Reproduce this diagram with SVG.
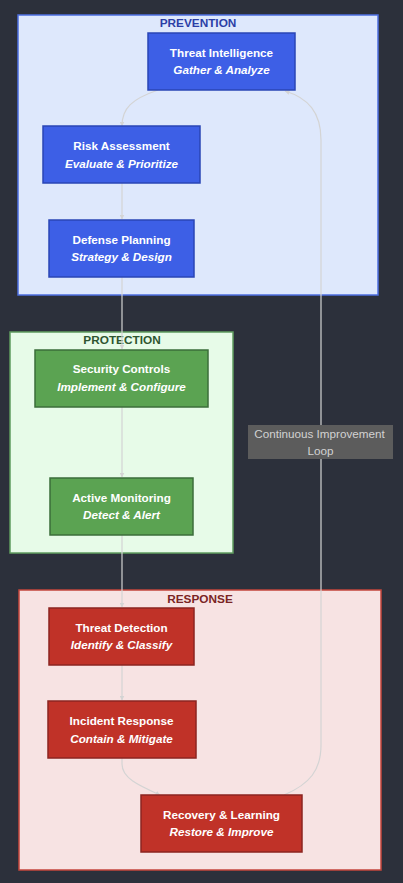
<svg xmlns="http://www.w3.org/2000/svg" width="403" height="883" viewBox="0 0 403 883">
<defs>
<style>
.t{font-family:"Liberation Sans",Arial,sans-serif;font-size:11.7px;font-weight:bold;fill:#ffffff;text-anchor:middle}
.s{font-family:"Liberation Sans",Arial,sans-serif;font-size:11.7px;font-weight:bold;font-style:italic;fill:#ffffff;text-anchor:middle}
.ct{font-family:"Liberation Sans",Arial,sans-serif;font-size:11.8px;font-weight:bold;text-anchor:middle}
.lb{font-family:"Liberation Sans",Arial,sans-serif;font-size:11.7px;fill:#d2d2d2;text-anchor:middle}
.e{fill:none;stroke:#d4d4d4;stroke-width:1.2;marker-end:url(#ah)}
.bn{fill:#3d5fe6;stroke:#2a45b5;stroke-width:1.5}
.gn{fill:#5ba352;stroke:#3b6e3a;stroke-width:1.5}
.rn{fill:#c03228;stroke:#8c2520;stroke-width:1.5}
</style>
<marker id="ah" viewBox="0 0 10 10" refX="9" refY="5" markerWidth="5" markerHeight="5" orient="auto-start-reverse" markerUnits="userSpaceOnUse">
<path d="M0,0 L10,5 L0,10 z" fill="#d4d4d4"/>
</marker>
</defs>
<rect x="0" y="0" width="403" height="883" fill="#2c303b"/>
<g id="cluster-prevention">
<rect x="18" y="15" width="360" height="280" fill="#dee8fc" stroke="#4c6ee0" stroke-width="1.5"/>
<text class="ct" x="198" y="27" fill="#2b3ea6">PREVENTION</text>
</g>
<g id="cluster-protection">
<rect x="10" y="332" width="223" height="221" fill="#e7fbe8" stroke="#5f9c5f" stroke-width="1.5"/>
<text class="ct" x="122" y="344" fill="#2e5530">PROTECTION</text>
</g>
<g id="cluster-response">
<rect x="19" y="590" width="362" height="280" fill="#f7e3e3" stroke="#c4453c" stroke-width="1.5"/>
<text class="ct" x="200" y="603" fill="#7a2424">RESPONSE</text>
</g>
<g id="connectors">
<path class="e" d="M158,90 C132,99 122,108 122,126"/>
<path class="e" d="M122,183 L122,219"/>
<path class="e" d="M122,277 L122,349"/>
<path class="e" d="M122,407 L122,477"/>
<path class="e" d="M122,535 L122,607"/>
<path class="e" d="M122,665 L122,700"/>
<path class="e" d="M122,758 L122,764 C122,778 138,785 160,795"/>
<path class="e" d="M284,795 C310,784 321,770 321,745 L321,140 C321,112 308,98 285,91"/>
<g id="loop-label">
<rect x="248" y="425" width="145" height="34" fill="#5c5c5c"/>
<text class="lb" x="319.5" y="438">Continuous Improvement</text>
<text class="lb" x="320.5" y="455">Loop</text>
</g>
</g>
<g id="threat-intelligence">
<rect class="bn" x="148" y="33" width="147" height="57"/>
<text class="t" x="221.5" y="57">Threat Intelligence</text>
<text class="s" x="221.5" y="74">Gather &amp; Analyze</text>
</g>
<g id="risk-assessment">
<rect class="bn" x="43" y="126" width="157" height="57"/>
<text class="t" x="121.5" y="150">Risk Assessment</text>
<text class="s" x="121.5" y="168">Evaluate &amp; Prioritize</text>
</g>
<g id="defense-planning">
<rect class="bn" x="49" y="220" width="145" height="57"/>
<text class="t" x="121.5" y="244">Defense Planning</text>
<text class="s" x="121.5" y="261">Strategy &amp; Design</text>
</g>
<g id="security-controls">
<rect class="gn" x="35" y="350" width="173" height="57"/>
<text class="t" x="121.5" y="373">Security Controls</text>
<text class="s" x="121.5" y="391">Implement &amp; Configure</text>
</g>
<g id="active-monitoring">
<rect class="gn" x="50" y="478" width="143" height="57"/>
<text class="t" x="121.5" y="502">Active Monitoring</text>
<text class="s" x="121.5" y="519">Detect &amp; Alert</text>
</g>
<g id="threat-detection">
<rect class="rn" x="49" y="608" width="145" height="57"/>
<text class="t" x="121.5" y="632">Threat Detection</text>
<text class="s" x="121.5" y="649">Identify &amp; Classify</text>
</g>
<g id="incident-response">
<rect class="rn" x="48" y="701" width="148" height="57"/>
<text class="t" x="121.5" y="725">Incident Response</text>
<text class="s" x="121.5" y="743">Contain &amp; Mitigate</text>
</g>
<g id="recovery-learning">
<rect class="rn" x="141" y="795" width="161" height="57"/>
<text class="t" x="221.5" y="819">Recovery &amp; Learning</text>
<text class="s" x="221.5" y="836">Restore &amp; Improve</text>
</g>
</svg>
